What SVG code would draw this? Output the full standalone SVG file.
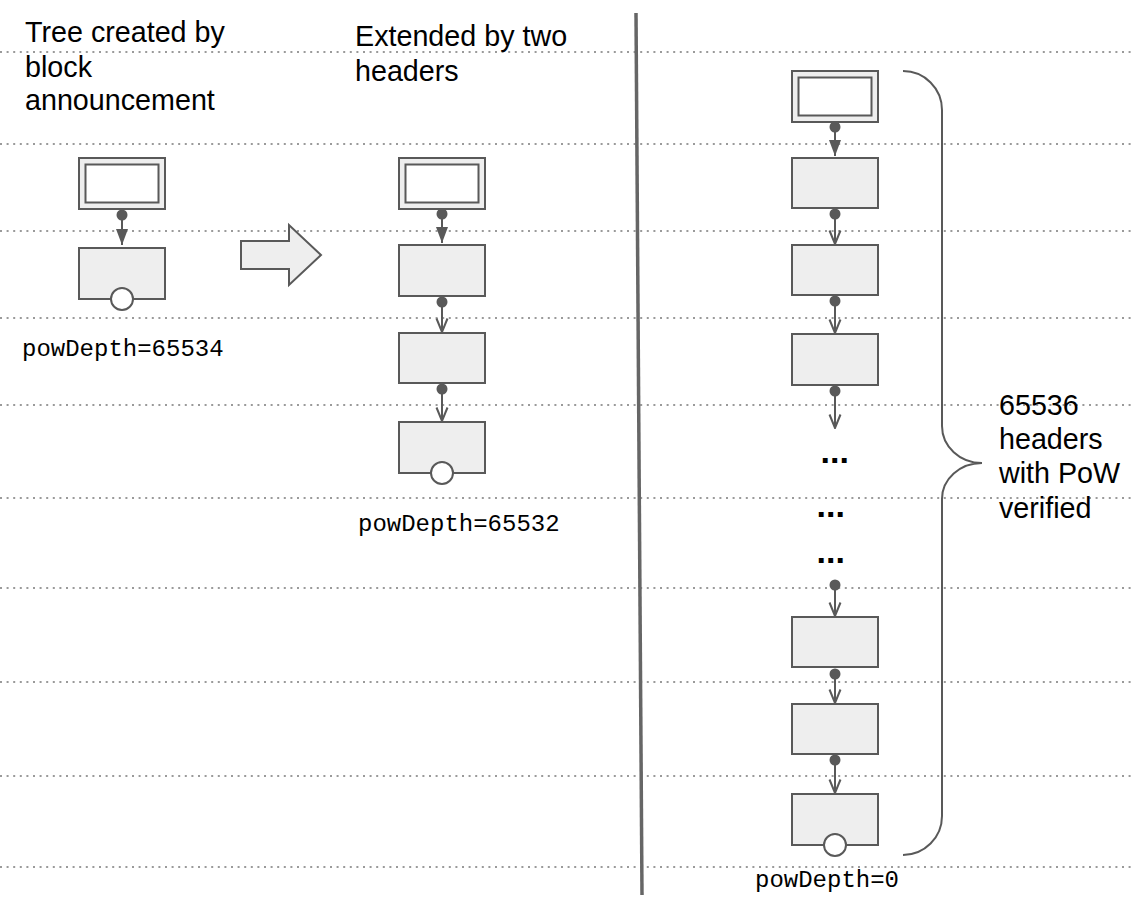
<svg xmlns="http://www.w3.org/2000/svg" width="1135" height="902" viewBox="0 0 1135 902">
<defs>
<style>
.grid{stroke:#9a9a9a;stroke-width:2;stroke-dasharray:2 4.6;fill:none}
.hdr{fill:#eeeeee;stroke:#595959;stroke-width:2}
.inner{fill:#ffffff;stroke:#595959;stroke-width:2}
.box{fill:#eeeeee;stroke:#595959;stroke-width:2}
.tip{fill:#ffffff;stroke:#595959;stroke-width:2}
.dot{fill:#595959}
.edge{stroke:#595959;stroke-width:2;fill:none}
.lbl{font-family:"Liberation Sans",Arial,sans-serif;font-size:28.7px;fill:#000}
.mono{font-family:"Liberation Mono","Courier New",monospace;font-size:24px;fill:#000}
.ell{font-family:"Liberation Sans",Arial,sans-serif;font-size:34px;font-weight:bold;fill:#000}
</style>
<marker id="filled" markerUnits="userSpaceOnUse" markerWidth="14" markerHeight="18" refX="7" refY="17" orient="0" viewBox="0 0 14 18">
<path d="M1,1 L13,1 L7,17 z" fill="#595959"/>
</marker>
<marker id="open" markerUnits="userSpaceOnUse" markerWidth="14" markerHeight="16" refX="7" refY="15" orient="0" viewBox="0 0 14 16">
<path d="M1.5,1.5 L7,15 L12.5,1.5" fill="none" stroke="#595959" stroke-width="2"/>
</marker>
</defs>
<rect width="1135" height="902" fill="#ffffff"/>
<g id="gridlines">
<line class="grid" x1="0" y1="52" x2="1135" y2="52"/>
<line class="grid" x1="0" y1="144" x2="1135" y2="144"/>
<line class="grid" x1="0" y1="231" x2="1135" y2="231"/>
<line class="grid" x1="0" y1="318" x2="1135" y2="318"/>
<line class="grid" x1="0" y1="405" x2="1135" y2="405"/>
<line class="grid" x1="0" y1="498" x2="1135" y2="498"/>
<line class="grid" x1="0" y1="588" x2="1135" y2="588"/>
<line class="grid" x1="0" y1="682" x2="1135" y2="682"/>
<line class="grid" x1="0" y1="776" x2="1135" y2="776"/>
<line class="grid" x1="0" y1="867" x2="1135" y2="867"/>
</g>
<line id="divider" x1="636" y1="13" x2="642" y2="895" stroke="#666666" stroke-width="3.5"/>
<g id="titles">
<text class="lbl" x="25" y="42">Tree created by</text>
<text class="lbl" x="25" y="77">block</text>
<text class="lbl" x="25" y="110">announcement</text>
<text class="lbl" x="355" y="46">Extended by two</text>
<text class="lbl" x="355" y="81">headers</text>
</g>
<g id="connectors">
<line class="edge" x1="122" y1="215" x2="122" y2="245" marker-end="url(#filled)"/>
<line class="edge" x1="442" y1="214" x2="442" y2="243" marker-end="url(#filled)"/>
<line class="edge" x1="442" y1="302" x2="442" y2="332" marker-end="url(#open)"/>
<line class="edge" x1="442" y1="389" x2="442" y2="421" marker-end="url(#open)"/>
<line class="edge" x1="835" y1="127" x2="835" y2="156" marker-end="url(#filled)"/>
<line class="edge" x1="835" y1="214" x2="835" y2="244" marker-end="url(#open)"/>
<line class="edge" x1="835" y1="301" x2="835" y2="333" marker-end="url(#open)"/>
<line class="edge" x1="835" y1="391" x2="835" y2="428" marker-end="url(#open)"/>
<line class="edge" x1="835" y1="585" x2="835" y2="616" marker-end="url(#open)"/>
<line class="edge" x1="835" y1="674" x2="835" y2="703" marker-end="url(#open)"/>
<line class="edge" x1="835" y1="760" x2="835" y2="793" marker-end="url(#open)"/>
<circle class="dot" cx="122" cy="215" r="5.5"/>
<circle class="dot" cx="442" cy="214" r="5.5"/>
<circle class="dot" cx="442" cy="302" r="5.5"/>
<circle class="dot" cx="442" cy="389" r="5.5"/>
<circle class="dot" cx="835" cy="127" r="5.5"/>
<circle class="dot" cx="835" cy="214" r="5.5"/>
<circle class="dot" cx="835" cy="301" r="5.5"/>
<circle class="dot" cx="835" cy="391" r="5.5"/>
<circle class="dot" cx="835" cy="585" r="5.5"/>
<circle class="dot" cx="835" cy="674" r="5.5"/>
<circle class="dot" cx="835" cy="760" r="5.5"/>
</g>
<g id="left-header">
<rect class="hdr" x="79" y="158" width="86" height="51"/>
<rect class="inner" x="85.5" y="164.5" width="73" height="38"/>
</g>
<g id="left-tip">
<rect class="box" x="79" y="248" width="86" height="51"/>
<circle class="tip" cx="122" cy="299" r="11"/>
</g>
<text class="mono" x="22" y="356">powDepth=65534</text>
<g id="block-arrow">
<polygon class="box" points="241,241 289,241 289,225 321,255 289,285 289,269 241,269"/>
</g>
<g id="mid-header">
<rect class="hdr" x="399" y="158" width="86" height="51"/>
<rect class="inner" x="405.5" y="164.5" width="73" height="38"/>
</g>
<g id="mid-1"><rect class="box" x="399" y="245" width="86" height="51"/></g>
<g id="mid-2"><rect class="box" x="399" y="333" width="86" height="50"/></g>
<g id="mid-3">
<rect class="box" x="399" y="422" width="86" height="51"/>
<circle class="tip" cx="442" cy="473" r="11"/>
</g>
<text class="mono" x="358" y="531">powDepth=65532</text>
<g id="right-header">
<rect class="hdr" x="792" y="71" width="86" height="51"/>
<rect class="inner" x="798.5" y="77.5" width="73" height="38"/>
</g>
<g id="right-1"><rect class="box" x="792" y="158" width="86" height="50"/></g>
<g id="right-2"><rect class="box" x="792" y="245" width="86" height="50"/></g>
<g id="right-3"><rect class="box" x="792" y="334" width="86" height="51"/></g>
<g id="ellipses">
<text class="ell" x="820.5" y="463">...</text>
<text class="ell" x="816.5" y="517">...</text>
<text class="ell" x="816.5" y="563">...</text>
</g>
<g id="right-4"><rect class="box" x="792" y="617" width="86" height="50"/></g>
<g id="right-5"><rect class="box" x="792" y="704" width="86" height="50"/></g>
<g id="right-6">
<rect class="box" x="792" y="794" width="86" height="51"/>
<circle class="tip" cx="835" cy="845" r="11"/>
</g>
<text class="mono" x="755" y="887">powDepth=0</text>
<g id="brace">
<path class="edge" d="M903,71 A39,39 0 0 1 942,110 L942,426 A40,37 0 0 0 982,463 A40,36 0 0 0 942,499 L942,816 A39,39 0 0 1 903,855"/>
</g>
<g id="brace-label">
<text class="lbl" x="999" y="415">65536</text>
<text class="lbl" x="999" y="449">headers</text>
<text class="lbl" x="999" y="483">with PoW</text>
<text class="lbl" x="999" y="518">verified</text>
</g>
</svg>
